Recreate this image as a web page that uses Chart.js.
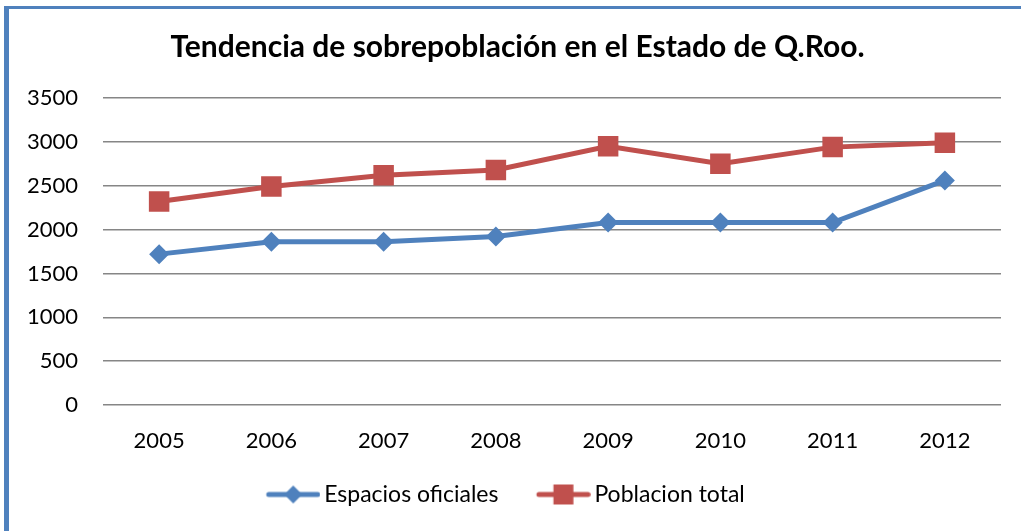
<!DOCTYPE html>
<html>
<head>
<meta charset="utf-8">
<script src="https://cdn.jsdelivr.net/npm/chart.js@4/dist/chart.umd.min.js"></script>
<style>
  html, body { margin: 0; padding: 0; background: #fff; overflow: hidden; }
  #frame { position: absolute; left: 4px; top: 6px; width: 1100px; height: 600px;
           border-top: 3px solid #4F81BD; border-left: 5px solid #4F81BD; }
  #wrap { position: absolute; left: 0; top: 0; width: 1021px; height: 531px; }
</style>
</head>
<body>
<div id="frame"></div>
<div id="wrap"><canvas id="c" width="1021" height="531"></canvas></div>
<script>
const years = ['2005', '2006', '2007', '2008', '2009', '2010', '2011', '2012'];
const espaciosOficiales = [1720, 1860, 1860, 1920, 2080, 2080, 2080, 2560];
const poblacionTotal = [2320, 2490, 2620, 2680, 2950, 2750, 2940, 2990];
const seriesNames = ['Espacios oficiales', 'Poblacion total'];
const titleText = 'Tendencia de sobrepoblación en el Estado de Q.Roo.';

const BLUE = '#4F81BD';
const RED = '#C0504D';
const FONT = 'Lato, "DejaVu Sans", sans-serif';

// legend icon: line with marker, placed so that it ends just left of the label text
function legendIcon(color, shape) {
  const c = document.createElement('canvas');
  c.width = 72; c.height = 22;
  const ctx = c.getContext('2d');
  ctx.strokeStyle = color; ctx.fillStyle = color;
  ctx.lineWidth = 5; ctx.lineCap = 'round';
  const a = 20.25, b = 69.25, m = (a + b) / 2;
  ctx.beginPath(); ctx.moveTo(a, 11); ctx.lineTo(b, 11); ctx.stroke();
  ctx.beginPath();
  if (shape === 'diamond') {
    ctx.moveTo(m, 2); ctx.lineTo(m + 9, 11); ctx.lineTo(m, 20); ctx.lineTo(m - 9, 11);
  } else {
    ctx.rect(m - 10, 1, 20, 20);
  }
  ctx.closePath(); ctx.fill();
  return c;
}

const titlePlugin = {
  id: 'centredTitle',
  afterDraw(chart) {
    const ctx = chart.ctx;
    ctx.save();
    ctx.font = 'bold 30px ' + FONT;
    ctx.fillStyle = '#000';
    ctx.textAlign = 'center';
    ctx.textBaseline = 'middle';
    ctx.fillText(titleText, 517.5, 47);
    ctx.restore();
  }
};

new Chart(document.getElementById('c'), {
  type: 'line',
  data: {
    labels: years,
    datasets: [
      { label: seriesNames[0], data: espaciosOficiales, borderColor: BLUE, backgroundColor: BLUE,
        borderWidth: 5, pointStyle: 'rectRot', pointRadius: 10, pointHoverRadius: 10,
        pointBorderWidth: 0, tension: 0 },
      { label: seriesNames[1], data: poblacionTotal, borderColor: RED, backgroundColor: RED,
        borderWidth: 5, pointStyle: 'rect', pointRadius: 14.5, pointHoverRadius: 14.5,
        pointBorderWidth: 0, tension: 0 }
    ]
  },
  plugins: [titlePlugin],
  options: {
    responsive: false,
    animation: false,
    layout: { padding: { left: 0, right: 20, top: 98, bottom: 15 } },
    plugins: {
      title: { display: false },
      legend: { position: 'bottom',
        labels: { color: '#000', font: { family: FONT, size: 23 }, usePointStyle: true,
                  pointStyleWidth: 56.5, padding: 28,
                  generateLabels: (chart) => chart.data.datasets.map((ds, i) => ({
                    text: ds.label, datasetIndex: i, hidden: false, lineWidth: 0,
                    fontColor: '#000',
                    pointStyle: legendIcon(ds.borderColor, i === 0 ? 'diamond' : 'square')
                  })) } },
      tooltip: { enabled: false }
    },
    scales: {
      x: { offset: true, grid: { display: false }, border: { display: false },
           ticks: { color: '#000', font: { family: FONT, size: 22 }, padding: 15 },
           afterFit: (s) => { s.height = 50; } },
      y: { min: 0, max: 3500, border: { display: false },
           grid: { color: '#868686', lineWidth: 1.5, drawTicks: false },
           ticks: { stepSize: 500, color: '#000', font: { family: FONT, size: 22 }, padding: 25,
                    callback: (v) => String(v) },
           afterFit: (s) => { s.width = 103; } }
    }
  }
});
</script>
</body>
</html>
